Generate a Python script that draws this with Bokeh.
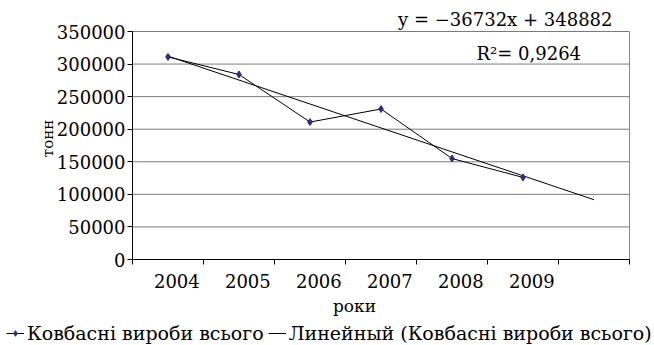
import math
from bokeh.plotting import figure
from bokeh.models import (FixedTicker, NumeralTickFormatter, Label, Legend,
                          LegendItem, Range1d, LinearAxis)
from bokeh.embed import file_html
from bokeh.resources import INLINE

# ---- data ----
years = ["2004", "2005", "2006", "2007", "2008", "2009"]
values = [311000, 284000, 211000, 231000, 155000, 126000]
slope = -36732
intercept = 348882
trend_index = [1, 7]          # Excel's x index for the trendline (extended one period)
y_ticks = [0, 50000, 100000, 150000, 200000, 250000, 300000, 350000]
eq_text = "y = \u221236732x + 348882"
r2_text = "R\u00b2= 0,9264"
x_title = "роки"
y_title = "тонн"
series_name = "Ковбасні вироби всього"
trend_name = "Линейный (Ковбасні вироби всього)"

FONT = "DejaVu Serif"

n_slots = len(years) + 1
y_max = y_ticks[-1]
idx = list(range(1, len(years) + 1))
xs = [i - 0.5 for i in idx]
trend_x = [i - 0.5 for i in trend_index]
trend_y = [slope * i + intercept for i in trend_index]

# ---- layout (canvas pixels) ----
W, H = 653, 344
PX_LEFT, PX_RIGHT = 132, 629     # plot area left / right
PX_TOP, PX_ZERO = 31, 259        # plot area top / bottom
sx = n_slots / (PX_RIGHT - PX_LEFT)
sy = y_max / (PX_ZERO - PX_TOP)


def X(px):
    return (px - PX_LEFT) * sx


def Y(py):
    return (PX_ZERO - py) * sy


p = figure(width=W, height=H, output_backend="svg", toolbar_location=None,
           x_range=Range1d(X(0), X(W)), y_range=Range1d(Y(H), Y(0)),
           x_axis_location=None, y_axis_location=None,
           min_border_left=0, min_border_right=0, min_border_top=0,
           min_border_bottom=0)
p.outline_line_color = None
p.background_fill_color = "white"
p.border_fill_color = "white"
p.xgrid.visible = False
p.ygrid.visible = False

# plot-area gridlines and right border
p.segment(x0=[0] * len(y_ticks), y0=y_ticks, x1=[n_slots] * len(y_ticks),
          y1=y_ticks, line_color="#7a7a7a", line_width=1)
p.segment(x0=[n_slots], y0=[0], x1=[n_slots], y1=[y_max],
          line_color="#8a8a8a", line_width=1)

# y axis
yax = LinearAxis(fixed_location=0, bounds=(0, y_max))
yax.ticker = FixedTicker(ticks=y_ticks)
yax.formatter = NumeralTickFormatter(format="0")
yax.axis_line_color = "black"
yax.major_tick_in = 0
yax.major_tick_out = 5
yax.minor_tick_line_color = None
yax.major_label_standoff = 2
yax.major_label_text_font = FONT
yax.major_label_text_font_size = "18px"
yax.major_label_text_color = "black"
p.add_layout(yax, "left")

# x axis: tick marks at category boundaries, labels slightly right of centre
label_pos = [i - 0.5 + 0.125 for i in idx]
xax = LinearAxis(fixed_location=0, bounds=(0, n_slots))
xax.ticker = FixedTicker(ticks=label_pos, minor_ticks=list(range(0, n_slots + 1)))
xax.major_label_overrides = {pos: y for pos, y in zip(label_pos, years)}
xax.axis_line_color = "black"
xax.major_tick_line_color = None
xax.major_tick_in = 0
xax.major_tick_out = 0
xax.minor_tick_line_color = "black"
xax.minor_tick_in = 0
xax.minor_tick_out = 5
xax.major_label_standoff = 9
xax.major_label_text_font = FONT
xax.major_label_text_font_size = "18px"
xax.major_label_text_color = "black"
p.add_layout(xax, "below")

# data
trend_r = p.line(trend_x, trend_y, line_color="black", line_width=1)
line_r = p.line(xs, values, line_color="black", line_width=1)
pts_r = p.scatter(xs, values, marker="diamond", size=7,
                  fill_color="#2b2d84", line_color="#2b2d84")

# texts
p.add_layout(Label(x=X(612), y=Y(19), text=eq_text, text_align="right",
                   text_baseline="alphabetic", text_font=FONT,
                   text_font_size="18px", text_color="black"))
p.add_layout(Label(x=X(476), y=Y(53), text=r2_text, text_align="left",
                   text_baseline="alphabetic", text_font=FONT,
                   text_font_size="18px", text_color="black"))
p.add_layout(Label(x=X(354), y=Y(305), text=x_title, text_align="center",
                   text_baseline="alphabetic", text_font=FONT,
                   text_font_size="17px", text_color="black"))
p.add_layout(Label(x=X(47), y=Y(138), text=y_title, text_align="center",
                   text_baseline="middle", angle=math.pi / 2, text_font=FONT,
                   text_font_size="15px", text_color="black"))

legend = Legend(items=[
    LegendItem(label=series_name, renderers=[line_r, pts_r]),
    LegendItem(label=trend_name, renderers=[trend_r]),
], orientation="horizontal", location=(6, 0))
legend.background_fill_alpha = 0
legend.border_line_alpha = 0
legend.padding = 0
legend.margin = 0
legend.spacing = 4
legend.label_standoff = 3
legend.glyph_width = 18
legend.glyph_height = 14
legend.label_height = 14
legend.label_text_font = FONT
legend.label_text_font_size = "19px"
legend.label_text_color = "black"
p.add_layout(legend)

open("out.html", "w").write(file_html(p, INLINE))
